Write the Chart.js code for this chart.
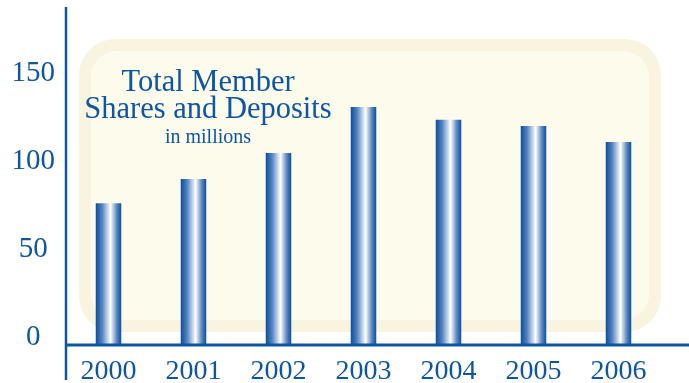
<!DOCTYPE html>
<html>
<head>
<meta charset="utf-8">
<script src="https://cdn.jsdelivr.net/npm/chart.js@4.4.1/dist/chart.umd.min.js"></script>
<style>
  html, body { margin: 0; padding: 0; background: #ffffff; }
  #wrap { width: 689px; height: 383px; }
</style>
</head>
<body>
<div id="wrap"><canvas id="sharesChart"></canvas></div>
<script>
const years = ['2000', '2001', '2002', '2003', '2004', '2005', '2006'];
const sharesDeposits = [80.5, 94.3, 109, 135.2, 128, 124.4, 115.3];
const yTicks = [0, 50, 100, 150];

const blue = '#0d55a5';
const serif = '"Liberation Serif", "DejaVu Serif", serif';

// цилиндрическая заливка столбиков
function barFill(context) {
  const chart = context.chart;
  const area = chart.chartArea;
  const xs = chart.scales.x;
  if (!area || !xs) return blue;
  const cx = xs.getPixelForValue(context.dataIndex);
  const w = (area.width / years.length) * 0.3;
  const g = chart.ctx.createLinearGradient(cx - w / 2, 0, cx + w / 2, 0);
  g.addColorStop(0, '#0a4e9e');
  g.addColorStop(0.25, '#5583bf');
  g.addColorStop(0.58, '#ffffff');
  g.addColorStop(0.82, '#5d89c2');
  g.addColorStop(1, '#0a4e9e');
  return g;
}

function roundRect(ctx, x, y, w, h, r) {
  ctx.beginPath();
  ctx.moveTo(x + r, y);
  ctx.arcTo(x + w, y, x + w, y + h, r);
  ctx.arcTo(x + w, y + h, x, y + h, r);
  ctx.arcTo(x, y + h, x, y, r);
  ctx.arcTo(x, y, x + w, y, r);
  ctx.closePath();
}

// кремовая подложка и заголовок
const panelPlugin = {
  id: 'panel',
  beforeDatasetsDraw(chart) {
    const ctx = chart.ctx;
    const a = chart.chartArea;
    ctx.save();
    roundRect(ctx, a.left + 13, 39, a.width - 13, a.bottom - 13 - 39, 36);
    ctx.fillStyle = '#f8f4df';
    ctx.fill();
    roundRect(ctx, a.left + 25, 51, a.width - 37, a.bottom - 25 - 51, 26);
    ctx.fillStyle = '#fdfcec';
    ctx.fill();

    ctx.fillStyle = blue;
    ctx.textAlign = 'center';
    ctx.textBaseline = 'alphabetic';
    ctx.font = '30.5px ' + serif;
    ctx.fillText('Total Member', 208, 91);
    ctx.fillText('Shares and Deposits', 208, 118);
    ctx.font = '20px ' + serif;
    ctx.fillText('in millions', 208, 143);
    ctx.restore();
  },
  afterDraw(chart) {
    const ctx = chart.ctx;
    const a = chart.chartArea;
    const y0 = chart.scales.y.getPixelForValue(0);
    ctx.save();
    ctx.strokeStyle = blue;
    ctx.lineWidth = 2.5;
    ctx.beginPath();
    ctx.moveTo(a.left, a.top);
    ctx.lineTo(a.left, chart.height - 3);
    ctx.stroke();
    ctx.lineWidth = 3;
    ctx.beginPath();
    ctx.moveTo(a.left, y0);
    ctx.lineTo(chart.width, y0);
    ctx.stroke();
    ctx.restore();
  }
};

const ctx = document.getElementById('sharesChart').getContext('2d');

new Chart(ctx, {
  type: 'bar',
  data: {
    labels: years,
    datasets: [{
      label: 'Total Member Shares and Deposits',
      data: sharesDeposits,
      backgroundColor: barFill,
      borderWidth: 0,
      barPercentage: 0.3,
      categoryPercentage: 1,
    }],
  },
  options: {
    responsive: true,
    maintainAspectRatio: false,
    animation: false,
    layout: { padding: { top: 7, right: 28, left: 0, bottom: 0 } },
    plugins: {
      legend: { display: false },
      tooltip: { enabled: false },
    },
    scales: {
      x: {
        grid: { display: false },
        border: { display: false },
        ticks: {
          color: blue,
          font: { family: serif, size: 28 },
          padding: 2,
          maxRotation: 0,
        },
        afterFit(scale) { scale.height = 38; },
      },
      y: {
        min: 0,
        max: 192,
        grid: { display: false, drawTicks: false },
        border: { display: false },
        afterBuildTicks(scale) {
          scale.ticks = yTicks.map(v => ({ value: v }));
        },
        ticks: {
          color: blue,
          font: { family: serif, size: 29 },
          crossAlign: 'center',
          labelOffset: -8,
          padding: 11,
        },
        afterFit(scale) {
          scale.width = 66;
          scale.paddingTop = 0;
          scale.paddingBottom = 0;
        },
      },
    },
  },
  plugins: [panelPlugin],
});
</script>
</body>
</html>
